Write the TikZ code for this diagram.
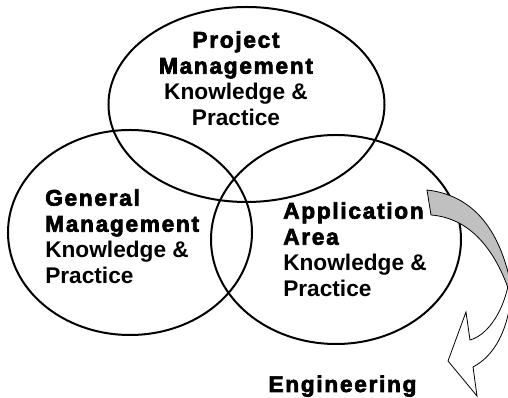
\documentclass[tikz,border=0pt]{standalone}
\usepackage{fontspec}
\setmainfont{Liberation Sans}
\usetikzlibrary{positioning}

\definecolor{ribbon}{RGB}{192,192,192}
% heavy, widely set headings
\newcommand{\heading}[1]{{\addfontfeature{FakeBold=3,LetterSpace=7.5}#1}}

\tikzset{
    ring/.style={line width=1.5pt},
    blocktext/.style={inner sep=0pt, align=left,
        font=\fontsize{17}{19.5}\selectfont\bfseries},
    ribbonline/.style={line width=0.6pt, line join=miter}
}

\begin{document}
\begin{tikzpicture}[x=0.75pt,y=-0.75pt]
    \useasboundingbox (0,0) rectangle (508,398);
    \clip (0,0) rectangle (508,398);

    % the three areas
    \coordinate (pm) at (246.5,104.5);
    \coordinate (gm) at (130,232.5);
    \coordinate (aa) at (336,239.5);
    \draw[ring] (pm) ellipse [x radius=138, y radius=97.5];
    \draw[ring] (gm) ellipse [x radius=122, y radius=102.5];
    \draw[ring] (aa) ellipse [x radius=125, y radius=104.5];

    % curved arrow, back side first
    \filldraw[ribbonline, fill=ribbon] (427,190) .. controls (470,195) and (500,225) .. (512,290)
        -- (512,300) .. controls (497,250) and (470,218) .. (431,215) -- cycle;
    \filldraw[ribbonline, fill=white] (511,262) .. controls (510,300) and (492,334) .. (470,340)
        -- (466,312) -- (448,361) -- (477,396) -- (473,367)
        .. controls (492,357) and (505,336) .. (510,305) -- cycle;

    \node[blocktext, align=center, anchor=north] (pmtext) at (236,31)
        {\heading{Project}\\\heading{Management}\\Knowledge \&\\Practice};
    \node[blocktext, anchor=north west] (gmtext) at (45,189)
        {\heading{General}\\\heading{Management}\\Knowledge \&\\Practice};
    \node[blocktext, anchor=north west] (aatext) at (283,202)
        {\heading{Application}\\\heading{Area}\\Knowledge \&\\Practice};
    \node[blocktext, anchor=base] (eng) at (342.5,392) {\heading{Engineering}};

\end{tikzpicture}
\end{document}
